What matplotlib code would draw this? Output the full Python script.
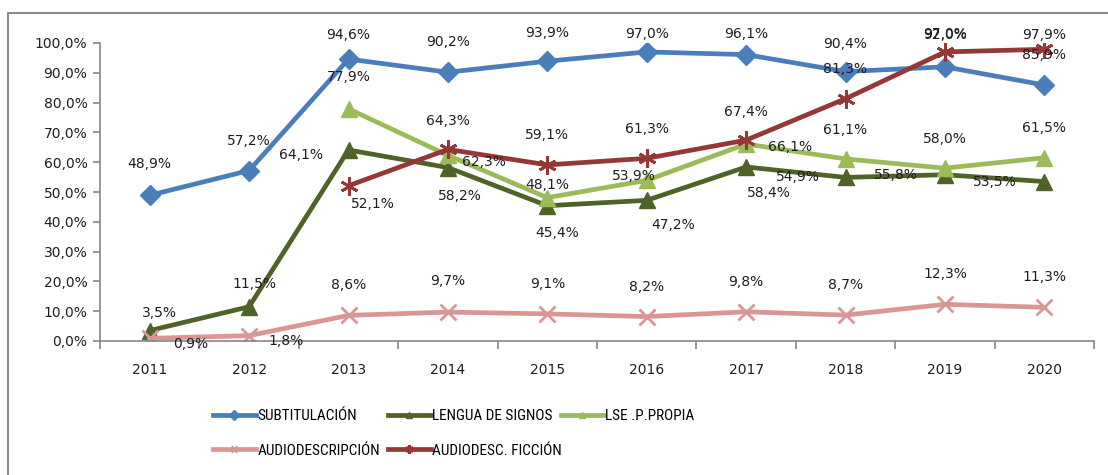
import numpy as np
import matplotlib
matplotlib.use("Agg")
import matplotlib.pyplot as plt
import matplotlib.font_manager as fm
from matplotlib.patches import Rectangle
from matplotlib.ticker import FuncFormatter, FixedLocator

years = ["2011", "2012", "2013", "2014", "2015", "2016", "2017", "2018", "2019", "2020"]
subtitulacion = [48.9, 57.2, 94.6, 90.2, 93.9, 97.0, 96.1, 90.4, 92.0, 85.9]
lengua_signos = [3.5, 11.5, 64.1, 58.2, 45.4, 47.2, 58.4, 54.9, 55.8, 53.5]
lse_propia = [None, None, 77.9, 62.3, 48.1, 53.9, 66.1, 61.1, 58.0, 61.5]
audiodescripcion = [0.9, 1.8, 8.6, 9.7, 9.1, 8.2, 9.8, 8.7, 12.3, 11.3]
audiodesc_ficcion = [None, None, 52.1, 64.3, 59.1, 61.3, 67.4, 81.3, 97.0, 97.9]

# label offsets in pixels (dx, dy) per point
off_sub = [(0, 31), (0, 30), (0, 24), (0, 30), (0, 28), (0, 18), (0, 21), (0, 28), (0, 32), (0, 30)]
off_len = [(10, 18), (5, 23), (-48, -5), (12, -28), (10, -27), (26, -25), (23, -26), (-48, 0), (-49, 0), (-49, 0)]
off_lse = [None, None, (0, 32), (36, -7), (0, 13), (-13, 4), (44, -3), (0, 29), (0, 29), (0, 30)]
off_aud = [(41, -6), (37, -5), (0, 30), (0, 31), (0, 30), (0, 30), (0, 30), (0, 30), (0, 30), (0, 30)]
off_fic = [None, None, (24, -18), (0, 28), (0, 30), (0, 29), (0, 28), (0, 30), (0, 18), (0, 14)]


def narrow_font(size):
    # look for a condensed sans face, legend text in the original is narrow
    for f in fm.fontManager.ttflist:
        if f.style != "normal" or f.weight not in (400, "normal", "regular"):
            continue
        if f.name in ("Liberation Sans Narrow", "Roboto Condensed", "Arial Narrow"):
            return fm.FontProperties(fname=f.fname, size=size)
    for f in fm.fontManager.ttflist:
        if f.style != "normal" or f.weight not in (400, "normal", "regular"):
            continue
        if f.name in ("DejaVu Sans", "Noto Sans", "Open Sans", "Roboto") and \
                f.stretch in ("condensed", "semi-condensed", 75, 87.5):
            return fm.FontProperties(fname=f.fname, size=size)
    return fm.FontProperties(family="Liberation Sans", size=size - 2)


fig = plt.figure(figsize=(11.08, 4.75), dpi=100)
fig.patches.append(Rectangle((8 / 1108, -0.05), 1.2, 1 - 13 / 475 + 0.05,
                             transform=fig.transFigure, fill=False,
                             edgecolor="#8c8c8c", linewidth=1.5))

ax = fig.add_axes([100 / 1108, 1 - 341 / 475, 994 / 1108, 298 / 475])
x = np.arange(len(years))

series = [
    ("SUBTITULACIÓN", subtitulacion, off_sub, "#4A7EBB", "D", 10.5, 1),
    ("LENGUA DE SIGNOS", lengua_signos, off_len, "#4F6228", "^", 11, 1),
    ("LSE .P.PROPIA", lse_propia, off_lse, "#9BBB59", "^", 11, 1),
    ("AUDIODESCRIPCIÓN", audiodescripcion, off_aud, "#D99694", "x", 11, 2),
    ("AUDIODESC. FICCIÓN", audiodesc_ficcion, off_fic, "#953735", (6, 2, 0), 13, 2),
]

handles = {}
for name, vals, offs, color, mk, ms, mew in series:
    y = np.array([np.nan if v is None else v for v in vals]) / 100
    ln, = ax.plot(x, y, color=color, linewidth=3.4, marker=mk, markersize=ms,
                  markeredgewidth=mew, markeredgecolor=color, markerfacecolor=color,
                  solid_joinstyle="round", label=name)
    handles[name] = ln
    for xi, v, o in zip(x, vals, offs):
        if v is None:
            continue
        ax.annotate(f"{v:.1f}%".replace(".", ","), (xi, v / 100), xytext=o,
                    textcoords="offset pixels", ha="center", va="center",
                    fontsize=10, color="#1e1e1e", zorder=10)

ax.set_xlim(-0.5, len(years) - 0.5)
ax.set_ylim(0, 1)
ax.set_yticks(np.arange(0, 1.01, 0.1))
ax.yaxis.set_major_formatter(FuncFormatter(lambda v, p: f"{v * 100:.1f}%".replace(".", ",")))
ax.set_xticks(x)
ax.set_xticklabels(years)
ax.xaxis.set_minor_locator(FixedLocator(np.arange(-0.5, len(years), 1)))
ax.tick_params(axis="x", which="major", length=0, pad=16, labelsize=10, labelcolor="#1e1e1e")
ax.tick_params(axis="x", which="minor", length=6, direction="out", color="#868686", width=1.2)
ax.tick_params(axis="y", length=5, direction="out", color="#868686", width=1.2,
               labelsize=10, labelcolor="#1e1e1e", pad=4)
for s in ["top", "right"]:
    ax.spines[s].set_visible(False)
for s in ["left", "bottom"]:
    ax.spines[s].set_color("#868686")
    ax.spines[s].set_linewidth(1.2)

# legend: three columns placed like the original
columns = [
    (213, ["SUBTITULACIÓN", "AUDIODESCRIPCIÓN"]),
    (388, ["LENGUA DE SIGNOS", "AUDIODESC. FICCIÓN"]),
    (561, ["LSE .P.PROPIA"]),
]
legfont = narrow_font(11)
for xpix, names in columns:
    fig.legend([handles[n] for n in names], names, loc="upper left",
               bbox_to_anchor=(xpix / 1108, 1 - 409 / 475), frameon=False,
               borderpad=0, borderaxespad=0, prop=legfont,
               handlelength=2.8, handletextpad=0.1, labelspacing=1.35,
               markerscale=0.45)

fig.savefig("out.png", dpi=100)
